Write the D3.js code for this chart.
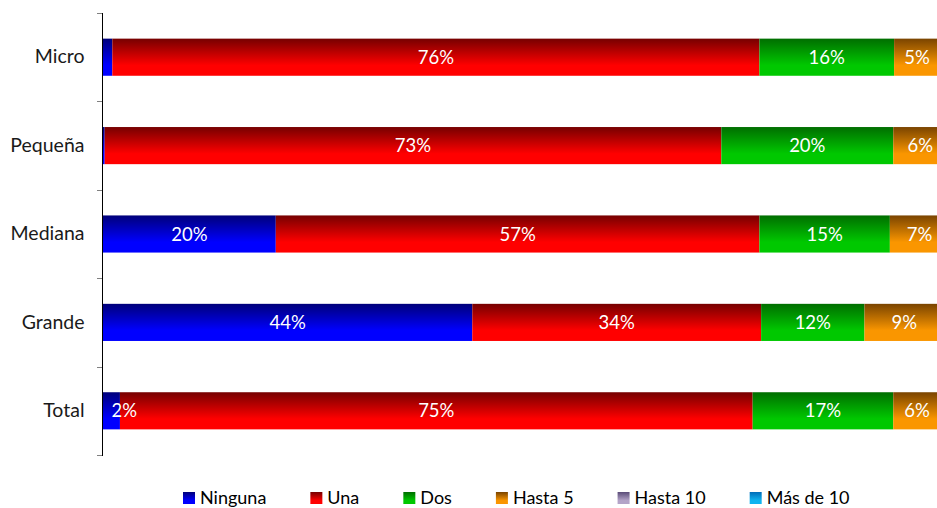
<!DOCTYPE html>
<html>
<head>
<meta charset="utf-8">
<script src="https://cdn.jsdelivr.net/npm/d3@7"></script>
<style>
  html, body { margin: 0; padding: 0; background: #fff; overflow: hidden; }
  svg { display: block; font-family: Lato, "Noto Sans", sans-serif; }
</style>
</head>
<body>
<svg id="chart" width="937" height="508"></svg>
<script>
// Company size groups (top to bottom)
const categories = ["Micro", "Pequeña", "Mediana", "Grande", "Total"];

// Response groups, stacked left to right
const seriesNames = ["Ninguna", "Una", "Dos", "Hasta 5", "Hasta 10", "Más de 10"];

// Share of companies per group (percent)
const ninguna  = [1.1, 0.2, 20.4, 43.6, 2.0];
const una      = [76.4, 72.8, 57.1, 34.1, 74.7];
const dos      = [15.9, 20.3, 15.4, 12.2, 16.6];
const hasta5   = [5.4, 6.4, 7.0, 9.4, 5.6];
const hasta10  = [0.8, 0.2, 0.1, 0.4, 0.7];
const masDe10  = [0.4, 0.1, 0.0, 0.3, 0.4];

const seriesValues = [ninguna, una, dos, hasta5, hasta10, masDe10];

// Gradient colours per series: [top (dark), bottom (bright)]
const seriesColors = [
  ["#00007a", "#0000ff"],
  ["#760000", "#ff0000"],
  ["#006e00", "#00c800"],
  ["#7a4400", "#fa9600"],
  ["#5a4c78", "#b4a4c8"],
  ["#006cb8", "#10b4f0"]
];

const rows = categories.map((c, i) => {
  const r = { category: c };
  seriesNames.forEach((s, j) => { r[s] = seriesValues[j][i]; });
  return r;
});

const svg = d3.select("#chart");
const margin = { left: 103, top: 13 };
const plotRight = 950;   // 100% position
const plotBottom = 455;

const x = d3.scaleLinear().domain([0, 100]).range([margin.left, plotRight]);
const y = d3.scaleBand().domain(categories).range([margin.top, plotBottom])
  .paddingInner(0.58).paddingOuter(0.29);

// gradients
const defs = svg.append("defs");
seriesNames.forEach((s, j) => {
  const g = defs.append("linearGradient")
    .attr("id", "grad" + j)
    .attr("x1", 0).attr("y1", 0).attr("x2", 0).attr("y2", 1);
  g.append("stop").attr("offset", "0%").attr("stop-color", seriesColors[j][0]);
  g.append("stop").attr("offset", "72%").attr("stop-color", seriesColors[j][1]);
  g.append("stop").attr("offset", "100%").attr("stop-color", seriesColors[j][1]);
});

const stacked = d3.stack().keys(seriesNames)(rows);

// bars
const layers = svg.append("g").selectAll("g")
  .data(stacked).join("g")
  .attr("fill", (d, j) => `url(#grad${j})`);

layers.selectAll("rect")
  .data(d => d)
  .join("rect")
  .attr("x", d => x(d[0]))
  .attr("y", d => y(d.data.category))
  .attr("width", d => Math.max(0, x(d[1]) - x(d[0])))
  .attr("height", y.bandwidth());

// value labels
const labelGroup = svg.append("g")
  .attr("fill", "#ffffff")
  .attr("font-size", "18.5px");

stacked.forEach(layer => {
  layer.forEach(d => {
    const v = d[1] - d[0];
    if (v < 1.5) return;
    const txt = Math.round(v) + "%";
    const cx = (x(d[0]) + x(d[1])) / 2;
    const t = labelGroup.append("text")
      .attr("y", y(d.data.category) + y.bandwidth() / 2)
      .attr("dy", "0.36em")
      .text(txt);
    const w = t.node().getComputedTextLength();
    const segW = x(d[1]) - x(d[0]);
    // narrow segments: label starts at the segment centre
    t.attr("x", cx).attr("text-anchor", w > segW ? "start" : "middle");
  });
});

// category axis
const axisG = svg.append("g")
  .attr("transform", `translate(${margin.left - 0.5},0)`)
  .call(d3.axisLeft(y).tickSize(0).tickPadding(18));
axisG.select(".domain").remove();
axisG.selectAll("text")
  .attr("font-family", "Lato, 'Noto Sans', sans-serif")
  .attr("font-size", "19.5px")
  .attr("fill", "#1a1a1a");

// tick marks between categories
const step = y.step();
const boundaries = [margin.top].concat(categories.map(c => y(c) + y.bandwidth() + step * y.paddingInner() / 2));
boundaries[boundaries.length - 1] = plotBottom;
svg.append("g").selectAll("line")
  .data(boundaries).join("line")
  .attr("x1", margin.left - 6).attr("x2", margin.left - 0.5)
  .attr("y1", d => Math.round(d) + 0.5).attr("y2", d => Math.round(d) + 0.5)
  .attr("stroke", "#808080").attr("stroke-width", 1);

svg.append("line")
  .attr("x1", margin.left - 0.5).attr("x2", margin.left - 0.5)
  .attr("y1", margin.top).attr("y2", plotBottom + 1)
  .attr("stroke", "#000").attr("stroke-width", 1);

// legend
const legend = svg.append("g").attr("font-size", "18px").attr("fill", "#000");
let lx = 183;
seriesNames.forEach((s, j) => {
  legend.append("rect")
    .attr("x", lx).attr("y", 492)
    .attr("width", 12).attr("height", 12)
    .attr("fill", `url(#grad${j})`);
  const t = legend.append("text")
    .attr("x", lx + 17).attr("y", 504)
    .text(s);
  lx += 17 + t.node().getComputedTextLength() + 44;
});
</script>
</body>
</html>
